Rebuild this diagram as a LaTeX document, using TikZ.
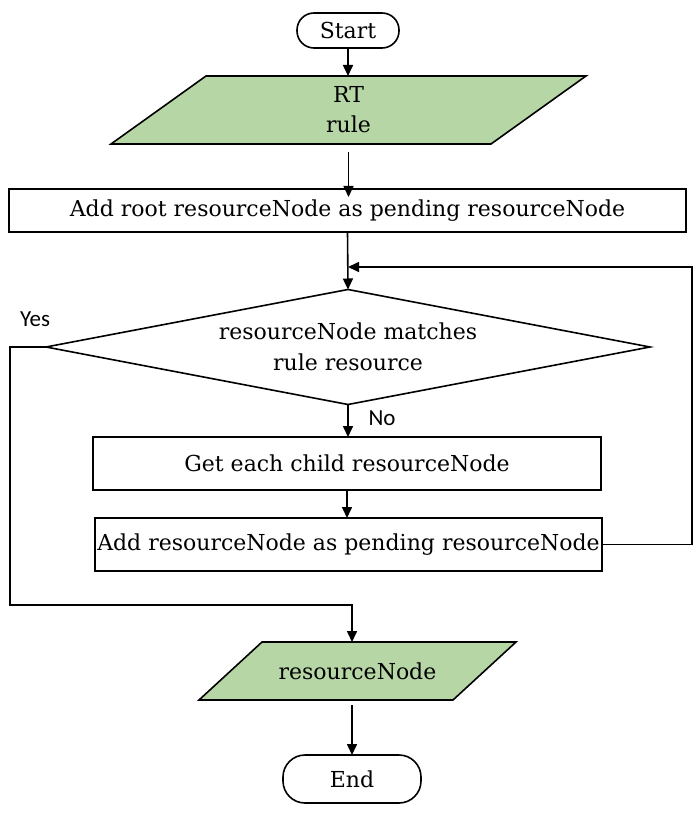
\documentclass[tikz,border=0pt]{standalone}
\usepackage{fontspec}
\setmainfont{DejaVu Serif}
\newfontfamily\labelfont{Carlito}
\usetikzlibrary{shapes.geometric,arrows.meta,backgrounds}
\definecolor{paragreen}{RGB}{182,214,165}
\tikzset{
  x=1pt, y=-1pt,
  every node/.style={font=\fontsize{22}{30}\selectfont, align=center, inner sep=0pt, outer sep=0pt},
  termbox/.style={draw, line width=1.6pt, rounded corners=17pt},
  procbox/.style={draw, line width=1.6pt, rectangle},
  decbox/.style={draw, line width=1.6pt, diamond, aspect=5.25},
  parabox/.style={rectangle},
  parashape/.style={draw, line width=1.6pt, fill=paragreen, line join=miter},
  arr/.style={line width=1.6pt, -{Triangle[length=11pt,width=10pt]}},
  lbl/.style={font=\labelfont\fontsize{23}{26}\selectfont}
}
\begin{document}
\begin{tikzpicture}
\useasboundingbox (0,0) rectangle (694,813);
% nodes
\node[termbox, minimum width=102pt, minimum height=35pt] (start) at (348,30.5) {Start};
\node[parabox, minimum width=380pt, minimum height=68pt] (rt) at (348.5,110) {RT\\rule};
\node[procbox, minimum width=677pt, minimum height=43pt] (box1) at (347.5,210.5) {Add root resourceNode as pending resourceNode};
\node[decbox, minimum width=604pt, minimum height=115pt, font=\fontsize{22}{31}\selectfont] (dec) at (348,347) {resourceNode matches\\rule resource};
\node[procbox, minimum width=508pt, minimum height=53pt] (box2) at (347,463.5) {Get each child resourceNode};
\node[procbox, minimum width=507pt, minimum height=53pt] (box3) at (348.5,544.5) {Add resourceNode as pending resourceNode};
\node[parabox, minimum width=254pt, minimum height=58pt] (out) at (357.5,671) {resourceNode};
\node[termbox, minimum width=138pt, minimum height=48pt, rounded corners=22pt] (end) at (352,779) {End};
\node[lbl] (yes) at (35,319) {Yes};
\node[lbl] (no) at (382,418) {No};
% parallelograms
\begin{scope}[on background layer]
\draw[parashape] ([xshift=47.5pt]rt.north west) -- ([xshift=47.5pt]rt.north east)
  -- ([xshift=-47.5pt]rt.south east) -- ([xshift=-47.5pt]rt.south west) -- cycle;
\draw[parashape] ([xshift=31.5pt]out.north west) -- ([xshift=31.5pt]out.north east)
  -- ([xshift=-31.5pt]out.south east) -- ([xshift=-31.5pt]out.south west) -- cycle;
\end{scope}
% connectors
\coordinate (lp) at (692,267);
\coordinate (yp) at (10,605);
\draw[arr] (start.south) -- (start.south |- rt.north);
\draw[arr] ([yshift=-8pt]rt.south) -- ([yshift=-8pt]rt.south |- box1.north);
\draw[arr] (box1.south) -- (dec.north);
\draw[arr] (dec.south) -- (dec.south |- box2.north);
\draw[arr] (box2.south) -- (box2.south |- box3.north);
\draw[arr] (box3.east) -| (lp) -- (dec.north |- lp);
\draw[arr] (dec.west) -| (yp) -| ([xshift=-5.5pt]out.north);
\draw[arr] ([xshift=-5.5pt,yshift=-5pt]out.south) -- (end.north);
\end{tikzpicture}
\end{document}
